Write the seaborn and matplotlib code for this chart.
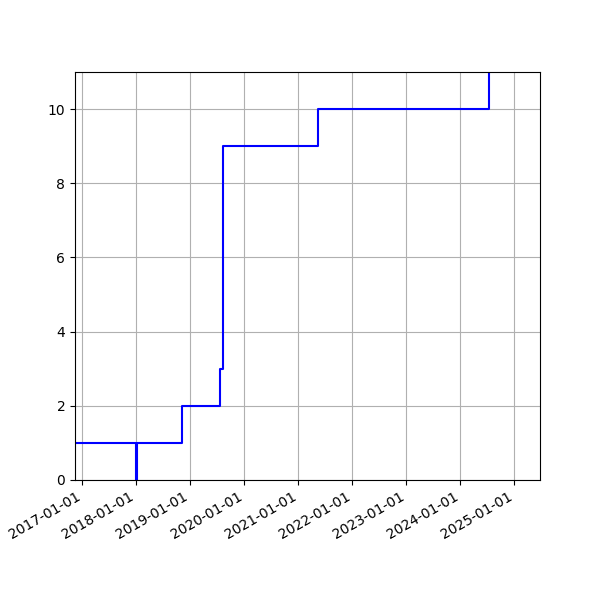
import matplotlib
matplotlib.use("Agg")
import matplotlib.pyplot as plt
import matplotlib.dates as mdates
import seaborn as sns
import pandas as pd

dates = ["2016-10-01", "2017-12-31", "2018-01-02", "2018-11-06",
         "2019-07-18", "2019-08-12", "2021-05-11", "2024-07-15"]
values = [1, 0, 1, 2, 3, 9, 10, 11]

df = pd.DataFrame({"date": pd.to_datetime(dates), "value": values})

fig, ax = plt.subplots(figsize=(6, 6), dpi=100)
sns.lineplot(data=df, x="date", y="value", drawstyle="steps-post",
             color="blue", linewidth=1.5, ax=ax)
ax.set_xlim(pd.Timestamp("2016-11-12"), pd.Timestamp("2025-06-23"))
ax.set_ylim(0, 11)
ax.xaxis.set_major_locator(mdates.YearLocator())
ax.xaxis.set_major_formatter(mdates.DateFormatter("%Y-%m-%d"))
ax.grid(True)
ax.set_xlabel("")
ax.set_ylabel("")
fig.autofmt_xdate()
fig.savefig("out.png", dpi=100)
